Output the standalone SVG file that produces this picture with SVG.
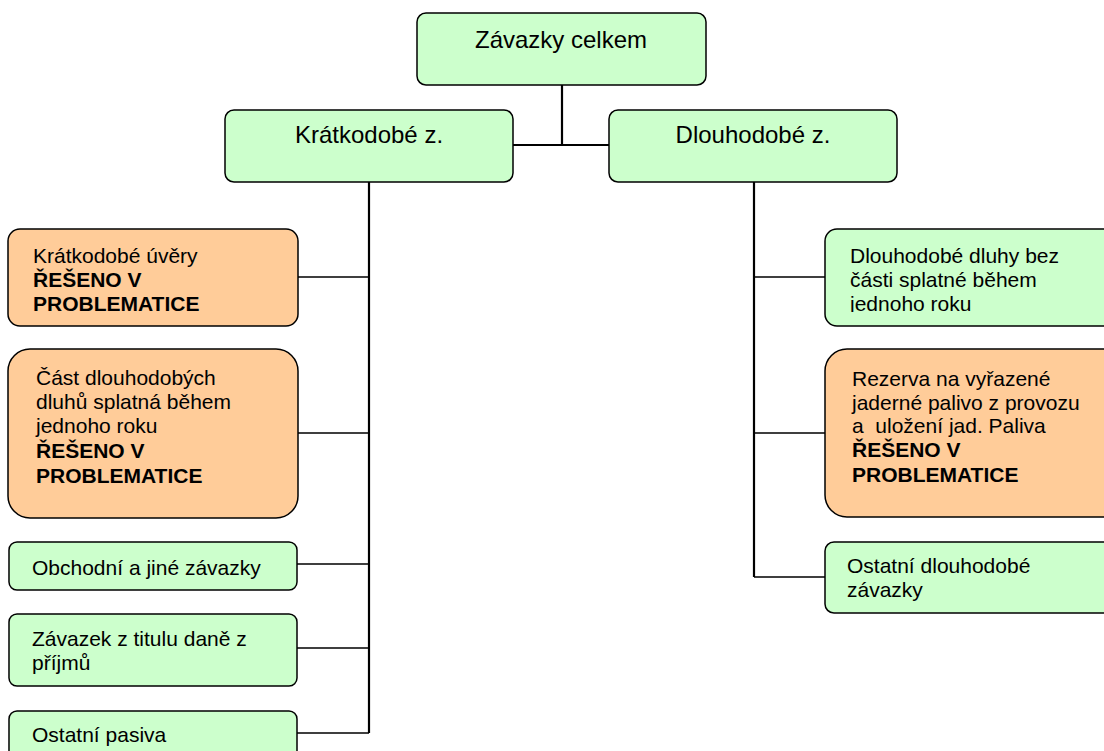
<svg xmlns="http://www.w3.org/2000/svg" width="1104" height="751" viewBox="0 0 1104 751">
  <style>
    .g { fill: #CCFFCC; stroke: #000; stroke-width: 1.5; }
    .o { fill: #FFCC99; stroke: #000; stroke-width: 1.5; }
    .t { font-family: "Liberation Sans", Arial, sans-serif; font-size: 21px; fill: #000; }
    .h { font-family: "Liberation Sans", Arial, sans-serif; font-size: 24px; fill: #000; text-anchor: middle; }
    .b { font-weight: bold; }
    .trunk { fill: none; stroke: #000; stroke-width: 2.2; }
    .branch { fill: none; stroke: #000; stroke-width: 1.5; }
  </style>
  <defs>
    <clipPath id="clipDluhy">
      <rect x="825" y="229" width="279" height="83"/>
    </clipPath>
  </defs>

  <g id="connectors">
    <path class="trunk" d="M562 85 V145 M513 145 H609"/>
    <path class="trunk" d="M369 182 V733"/>
    <path class="branch" d="M298 277 H369 M298 433 H369 M297 564 H369 M297 648 H369 M297 733 H369"/>
    <path class="trunk" d="M754 182 V577"/>
    <path class="branch" d="M754 277 H825 M754 433 H825 M754 577 H825"/>
  </g>

  <g id="zavazky-celkem">
    <rect class="g" x="417" y="13" width="289" height="72" rx="9"/>
    <text class="h" x="561" y="48">Závazky celkem</text>
  </g>

  <g id="kratkodobe">
    <rect class="g" x="225" y="110" width="288" height="72" rx="9"/>
    <text class="h" x="369" y="143">Krátkodobé z.</text>
  </g>

  <g id="dlouhodobe">
    <rect class="g" x="609" y="110" width="288" height="72" rx="9"/>
    <text class="h" x="753" y="143">Dlouhodobé z.</text>
  </g>

  <g id="kratkodobe-uvery">
    <rect class="o" x="8" y="229" width="290" height="97" rx="12"/>
    <text class="t" x="33" y="263">Krátkodobé úvěry</text>
    <text class="t b" x="33" y="287">ŘEŠENO V</text>
    <text class="t b" x="33" y="311">PROBLEMATICE</text>
  </g>

  <g id="cast-dlouhodobych">
    <rect class="o" x="8" y="349" width="290" height="169" rx="22"/>
    <text class="t" x="36" y="385">Část dlouhodobých</text>
    <text class="t" x="36" y="409">dluhů splatná během</text>
    <text class="t" x="36" y="433">jednoho roku</text>
    <text class="t b" x="36" y="458">ŘEŠENO V</text>
    <text class="t b" x="36" y="483">PROBLEMATICE</text>
  </g>

  <g id="obchodni">
    <rect class="g" x="9" y="542" width="288" height="48" rx="8"/>
    <text class="t" x="32" y="575">Obchodní a jiné závazky</text>
  </g>

  <g id="zavazek-dan">
    <rect class="g" x="9" y="614" width="288" height="72" rx="8"/>
    <text class="t" x="32" y="646">Závazek z titulu daně z</text>
    <text class="t" x="32" y="670">příjmů</text>
  </g>

  <g id="ostatni-pasiva">
    <rect class="g" x="9" y="711" width="288" height="60" rx="8"/>
    <text class="t" x="32" y="742">Ostatní pasiva</text>
  </g>

  <g id="dlouhodobe-dluhy">
    <rect class="g" x="825" y="229" width="300" height="97" rx="12"/>
    <g clip-path="url(#clipDluhy)">
      <text class="t" x="850" y="263">Dlouhodobé dluhy bez</text>
      <text class="t" x="850" y="287">části splatné během</text>
      <text class="t" x="850" y="311">jednoho roku</text>
    </g>
  </g>

  <g id="rezerva">
    <rect class="o" x="825" y="349" width="300" height="168" rx="22"/>
    <text class="t" x="852" y="386">Rezerva na vyřazené</text>
    <text class="t" x="852" y="410">jaderné palivo z provozu</text>
    <text class="t" x="852" y="433" xml:space="preserve">a  uložení jad. Paliva</text>
    <text class="t b" x="852" y="457">ŘEŠENO V</text>
    <text class="t b" x="852" y="482">PROBLEMATICE</text>
  </g>

  <g id="ostatni-dlouhodobe">
    <rect class="g" x="825" y="542" width="300" height="71" rx="9"/>
    <text class="t" x="847" y="573">Ostatní dlouhodobé</text>
    <text class="t" x="847" y="597">závazky</text>
  </g>
</svg>
